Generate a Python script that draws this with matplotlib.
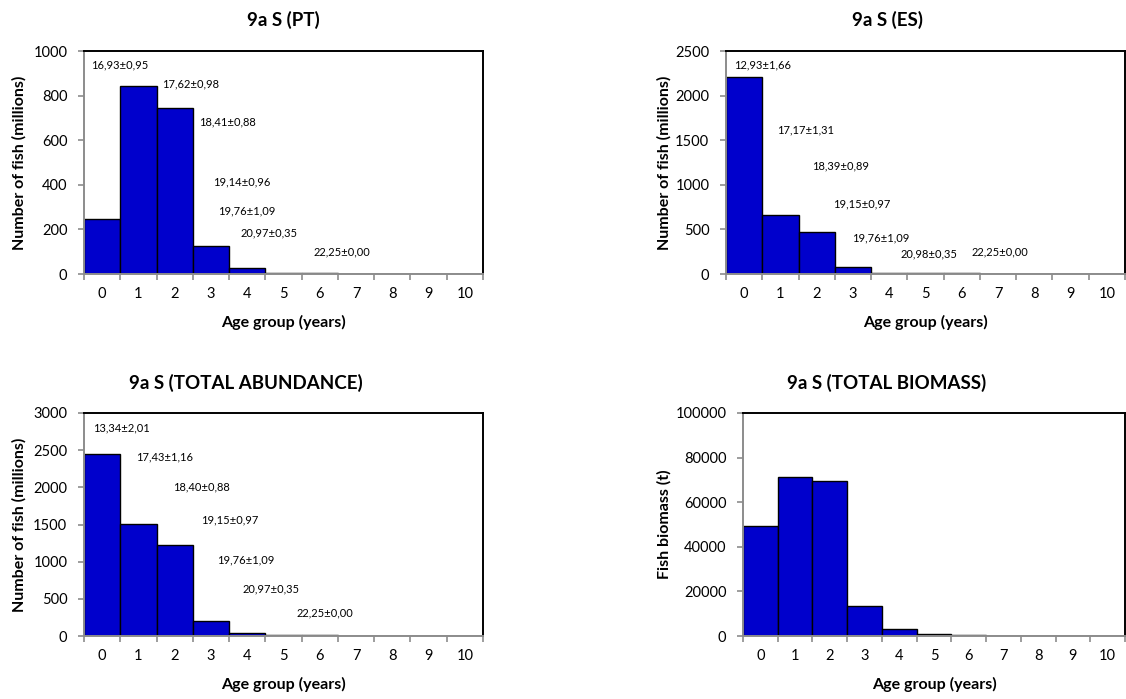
import matplotlib
matplotlib.use("Agg")
import matplotlib.pyplot as plt
from matplotlib.ticker import FixedLocator, MultipleLocator

plt.rcParams['font.family'] = ['Lato', 'DejaVu Sans']

ages = list(range(11))

# numbers at age (millions) and biomass (t)
pt_numbers = [248, 843, 746, 124, 27, 5, 4, 0, 0, 0, 0]
es_numbers = [2205, 660, 474, 82, 15, 10, 10, 0, 0, 0, 0]
total_numbers = [2453, 1503, 1220, 206, 42, 15, 14, 0, 0, 0, 0]
total_biomass = [49300, 71300, 69700, 13400, 3300, 700, 600, 0, 0, 0, 0]

# mean length +- sd per age group, with label anchor (age, height)
pt_lengths = ["16,93±0,95", "17,62±0,98", "18,41±0,88", "19,14±0,96",
              "19,76±1,09", "20,97±0,35", "22,25±0,00"]
pt_label_x = [-0.30, 1.64, 2.67, 3.06, 3.19, 3.81, 5.82]
pt_label_y = [936, 854, 681, 415, 284, 182, 100]

es_lengths = ["12,93±1,66", "17,17±1,31", "18,39±0,89", "19,15±0,97",
              "19,76±1,09", "20,98±0,35", "22,25±0,00"]
es_label_x = [-0.27, 0.92, 1.88, 2.45, 2.97, 4.31, 6.28]
es_label_y = [2340, 1612, 1209, 791, 410, 224, 250]

total_lengths = ["13,34±2,01", "17,43±1,16", "18,40±0,88", "19,15±0,97",
                 "19,76±1,09", "20,97±0,35", "22,25±0,00"]
total_label_x = [-0.26, 0.93, 1.95, 2.72, 3.18, 3.88, 5.35]
total_label_y = [2799, 2409, 2006, 1567, 1030, 627, 305]

W, H = 1126, 699
fig = plt.figure(figsize=(W / 100, H / 100), dpi=100)


def px_axes(x0, y0, x1, y1):
    return fig.add_axes([x0 / W, 1 - y1 / H, (x1 - x0) / W, (y1 - y0) / H])


def draw_panel(ax, values, ymax, ystep, ylabel, ylab_x, title, title_x, title_y,
               labels=None, lab_x=None, lab_y=None):
    ax.bar(ages, values, width=1.0, color='#0000CC', edgecolor='black',
           linewidth=1.0, zorder=2)
    ax.set_xlim(-0.5, 10.5)
    ax.set_ylim(0, ymax)
    ax.yaxis.set_major_locator(MultipleLocator(ystep))
    ax.set_xticks(ages)
    ax.xaxis.set_minor_locator(FixedLocator([a - 0.5 for a in ages] + [10.5]))
    ax.tick_params(axis='x', which='major', length=0, pad=9, labelsize=10.5)
    ax.tick_params(axis='x', which='minor', length=4, width=1.2,
                   color='#8c8c8c', direction='out')
    ax.tick_params(axis='y', length=4, width=1.2, color='#8c8c8c',
                   direction='out', pad=8, labelsize=10.5)
    for side in ('left', 'bottom'):
        ax.spines[side].set_color('#8c8c8c')
        ax.spines[side].set_linewidth(1.4)
    for side in ('top', 'right'):
        ax.spines[side].set_color('black')
        ax.spines[side].set_linewidth(1.4)
    ax.set_xlabel('Age group (years)', fontsize=11.5, fontweight='bold', va='center')
    ax.xaxis.set_label_coords(0.5, -48 / 223)
    bb = ax.get_position()
    fig.text(ylab_x / W, bb.y0 + bb.height / 2, ylabel, rotation=90,
             ha='center', va='center', fontsize=11.5, fontweight='bold')
    fig.text(title_x / W, 1 - title_y / H, title, ha='center', va='center',
             fontsize=13.5, fontweight='bold')
    if labels:
        for t, x, y in zip(labels, lab_x, lab_y):
            ax.text(x, y, t, ha='left', va='center', fontsize=8, zorder=3)


ax1 = px_axes(84, 51, 483, 274)
draw_panel(ax1, pt_numbers, 1000, 200, 'Number of fish (millions)', 19,
           '9a S (PT)', 283, 20, pt_lengths, pt_label_x, pt_label_y)

ax2 = px_axes(726, 51, 1125, 274)
draw_panel(ax2, es_numbers, 2500, 500, 'Number of fish (millions)', 664,
           '9a S (ES)', 887, 20, es_lengths, es_label_x, es_label_y)

ax3 = px_axes(84, 413, 483, 636)
draw_panel(ax3, total_numbers, 3000, 500, 'Number of fish (millions)', 19,
           '9a S (TOTAL ABUNDANCE)', 246, 383, total_lengths, total_label_x,
           total_label_y)

ax4 = px_axes(743, 413, 1125, 636)
draw_panel(ax4, total_biomass, 100000, 20000, 'Fish biomass (t)', 664,
           '9a S (TOTAL BIOMASS)', 887, 383)

fig.savefig('out.png', dpi=100)
